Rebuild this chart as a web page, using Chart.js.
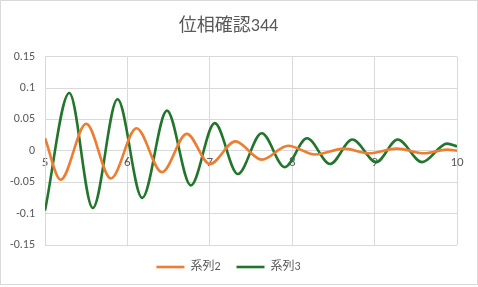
<!DOCTYPE html>
<html lang="ja">
<head>
<meta charset="UTF-8">
<title>位相確認344</title>
<script src="https://cdn.jsdelivr.net/npm/chart.js"></script>
<style>
  html,body{margin:0;padding:0;background:#fff}
  #wrap{position:absolute;left:0;top:0;width:476px;height:283px;border:1px solid #d9d9d9}
  canvas#chart{position:absolute;left:0;top:0}
</style>
</head>
<body>
<div id="wrap"></div>
<canvas id="chart" width="478" height="287"></canvas>
<script>
// 系列2 (orange) — peaks/troughs
const s2x=[5.00,5.19,5.50,5.80,6.11,6.42,6.72,7.00,7.31,7.63,7.95,8.28,8.63,8.93,9.27,9.60,9.88,10.00];
const s2y=[0.020,-0.046,0.043,-0.044,0.036,-0.034,0.027,-0.021,0.015,-0.014,0.008,-0.006,0.0035,-0.004,0.0035,-0.004,0.0018,0.000];
// 系列3 (green)
const s3x=[5.00,5.295,5.58,5.88,6.18,6.48,6.77,7.06,7.34,7.63,7.91,8.18,8.46,8.73,9.02,9.28,9.575,9.88,10.00];
const s3y=[-0.095,0.092,-0.091,0.082,-0.075,0.064,-0.055,0.044,-0.037,0.028,-0.026,0.020,-0.021,0.018,-0.018,0.018,-0.018,0.0115,0.007];

const seriesNames=['系列2','系列3'];
const seriesColors=['#ED7D31','#22762B'];
const chartTitle='位相確認344';

const txt='#595959';
const grid='#d9d9d9';
const fam="Calibri, 'Liberation Sans', 'Noto Sans CJK JP', sans-serif";

function pts(xs,ys){return xs.map((x,i)=>({x,y:ys[i]}));}

const datasets=[pts(s2x,s2y),pts(s3x,s3y)].map((data,i)=>({
  label:seriesNames[i],
  data,
  showLine:true,
  borderColor:seriesColors[i],
  backgroundColor:seriesColors[i],
  borderWidth:2.6,
  pointRadius:0,
  pointStyle:'line',
  cubicInterpolationMode:'monotone'
}));

new Chart(document.getElementById('chart'),{
  type:'scatter',
  data:{datasets},
  options:{
    responsive:false,
    animation:false,
    layout:{padding:{left:0,right:21,top:0,bottom:4}},
    plugins:{
      title:{display:true,text:chartTitle,color:txt,font:{family:fam,size:18,weight:'normal'},padding:{top:16,bottom:19}},
      legend:{position:'bottom',labels:{color:txt,font:{family:fam,size:12},usePointStyle:true,pointStyleWidth:28,padding:16}},
      tooltip:{enabled:false}
    },
    scales:{
      x:{
        type:'linear',min:5,max:10,
        position:{y:0},
        ticks:{stepSize:1,color:txt,font:{family:fam,size:13},padding:4,maxRotation:0},
        grid:{color:grid,drawTicks:false},
        border:{color:grid}
      },
      y:{
        min:-0.15,max:0.15,
        afterFit:s=>{s.width=45;},
        ticks:{stepSize:0.05,color:txt,font:{family:fam,size:12},padding:10,
          callback:v=>String(Number(v.toFixed(2)))},
        grid:{color:grid,drawTicks:false},
        border:{color:grid}
      }
    }
  }
});
</script>
</body>
</html>
